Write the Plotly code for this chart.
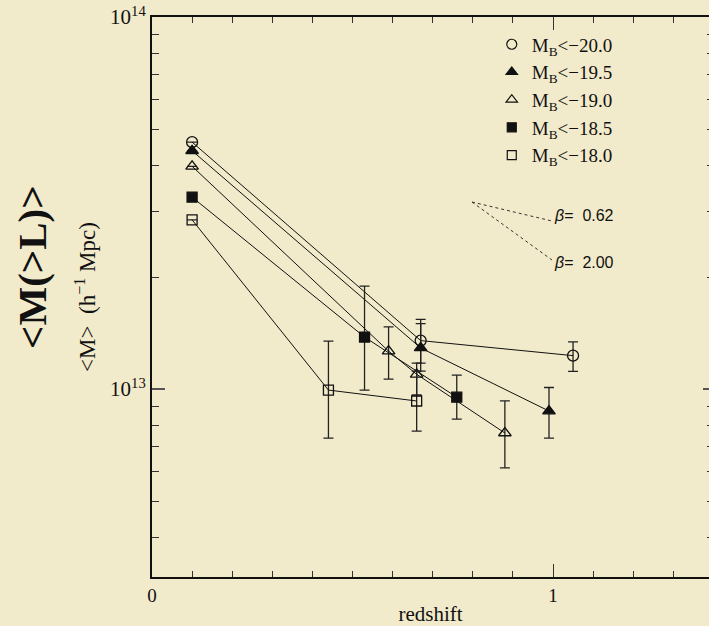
import plotly.graph_objects as go

# Mean group mass vs redshift for several luminosity thresholds
labels = ["M<sub>B</sub><\u221220.0", "M<sub>B</sub><\u221219.5", "M<sub>B</sub><\u221219.0",
          "M<sub>B</sub><\u221218.5", "M<sub>B</sub><\u221218.0"]
symbols = ["circle-open", "triangle-up", "triangle-up-open", "square", "square-open"]
sizes = [11, 11, 11, 10, 10]

z_m20 = [0.10, 0.67, 1.05]
m_m20 = [4.61e13, 1.35e13, 1.23e13]
up_m20 = [None, 1.54e13, 1.34e13]
lo_m20 = [None, 1.175e13, 1.116e13]

z_m195 = [0.10, 0.67, 0.99]
m_m195 = [4.37e13, 1.29e13, 8.73e12]
up_m195 = [None, 1.50e13, 1.01e13]
lo_m195 = [None, 1.117e13, 7.38e12]

z_m19 = [0.10, 0.59, 0.66, 0.88]
m_m19 = [3.97e13, 1.265e13, 1.096e13, 7.62e12]
up_m19 = [None, 1.47e13, 1.175e13, 9.3e12]
lo_m19 = [None, 1.064e13, 9.64e12, 6.14e12]

z_m185 = [0.10, 0.53, 0.76]
m_m185 = [3.28e13, 1.38e13, 9.51e12]
up_m185 = [None, 1.89e13, 1.09e13]
lo_m185 = [None, 9.94e12, 8.30e12]

z_m18 = [0.10, 0.44, 0.66]
m_m18 = [2.85e13, 9.94e12, 9.29e12]
up_m18 = [None, 1.345e13, 1.117e13]
lo_m18 = [None, 7.38e12, 7.71e12]

series = [
    (z_m20, m_m20, up_m20, lo_m20),
    (z_m195, m_m195, up_m195, lo_m195),
    (z_m19, m_m19, up_m19, lo_m19),
    (z_m185, m_m185, up_m185, lo_m185),
    (z_m18, m_m18, up_m18, lo_m18),
]

beta_labels = ["<i>\u03b2</i>=  0.62", "<i>\u03b2</i>=  2.00"]

BG = "#f2ebcb"
INK = "#111111"
SERIF = "Liberation Serif"

fig = go.Figure()

for (z, m, up, lo), sym, sz in zip(series, symbols, sizes):
    plus = [(u - v) if u is not None else 0 for u, v in zip(up, m)]
    minus = [(v - l) if l is not None else 0 for l, v in zip(lo, m)]
    fig.add_trace(go.Scatter(
        x=z, y=m, mode="lines+markers", showlegend=False,
        line=dict(color=INK, width=1),
        marker=dict(symbol=sym, size=sz, color=INK, line=dict(color=INK, width=1.3)),
        error_y=dict(type="data", symmetric=False, array=plus, arrayminus=minus,
                     color="#222222", thickness=1.3, width=5),
    ))

# legend entries: symbol only
for lab, sym, sz in zip(labels, symbols, sizes):
    fig.add_trace(go.Scatter(
        x=[None], y=[None], mode="markers", name=lab,
        marker=dict(symbol=sym, size=sz - 1, color=INK, line=dict(color=INK, width=1.2)),
    ))

major_y = [1e13, 1e14]
minor_y = [k * 1e12 for k in range(4, 10)] + [k * 1e13 for k in range(2, 10)]
major_x = [0, 1]
minor_x = [round(0.1 * k, 1) for k in range(1, 14) if k != 10]

fig.update_xaxes(
    range=[0, 557 / 401], showline=True, linecolor=INK, linewidth=2, mirror="ticks",
    ticks="inside", ticklen=13, tickwidth=1.3, tickcolor="#333333",
    tickvals=major_x, ticktext=["0", "1"],
    minor=dict(tickvals=minor_x, ticks="inside", ticklen=6, tickwidth=1.3, tickcolor="#333333"),
    showgrid=False, zeroline=False,
    tickfont=dict(family=SERIF, size=19, color=INK),
    title=dict(text="redshift", font=dict(family=SERIF, size=21, color=INK), standoff=4),
)
fig.update_yaxes(
    type="log", range=[12.495, 14], showline=True, linecolor=INK, linewidth=2,
    ticks="inside", ticklen=13, tickwidth=1.5, tickcolor="#555555",
    tickvals=major_y, ticktext=["10<sup>13</sup>", "10<sup>14</sup>"],
    minor=dict(tickvals=minor_y, ticks="inside", ticklen=7, tickwidth=1.3, tickcolor="#333333"),
    showgrid=False, zeroline=False,
    tickfont=dict(family=SERIF, size=21, color=INK),
    title=dict(text="<M>  (h<sup>\u22121</sup> Mpc)", font=dict(family=SERIF, size=23, color=INK),
               standoff=8),
)

# right-hand ticks without an axis line (axis sits just past the edge)
fig.add_trace(go.Scatter(x=[None], y=[None], yaxis="y2", showlegend=False))
fig.update_layout(yaxis2=dict(
    type="log", range=[12.495, 14], overlaying="y", side="right", anchor="x",
    showline=False, showgrid=False, zeroline=False, showticklabels=False,
    ticks="inside", ticklen=6, tickwidth=1.5, tickcolor="#555555", tickvals=major_y,
    minor=dict(tickvals=minor_y, ticks="inside", ticklen=2, tickwidth=1.3, tickcolor="#333333"),
))

# slope guide lines
x0, y0 = 0.5745, 0.6696
for yend in [0.6357, 0.5661]:
    fig.add_shape(type="line", xref="paper", yref="paper", x0=x0, y0=y0, x1=0.7181, y1=yend,
                  line=dict(color="#333333", width=1, dash="dot"))
for txt, yy in zip(beta_labels, [0.6464, 0.5625]):
    fig.add_annotation(xref="paper", yref="paper", x=0.718, y=yy, xanchor="left", yanchor="middle",
                       text=txt, showarrow=False, font=dict(family="Liberation Sans", size=16, color=INK))

# large panel label
fig.add_annotation(xref="paper", yref="paper", x=-0.2154, y=0.552, text="<b><M(>L)></b>",
                   textangle=-90, showarrow=False, xanchor="center", yanchor="middle",
                   font=dict(family=SERIF, size=41, color=INK))

fig.update_layout(
    width=709, height=626,
    margin=dict(l=152, r=0, t=17, b=49),
    paper_bgcolor=BG, plot_bgcolor=BG,
    legend=dict(x=0.61, y=0.985, xanchor="left", yanchor="top", bgcolor="rgba(0,0,0,0)",
                font=dict(family=SERIF, size=19, color=INK), tracegroupgap=0, itemwidth=30),
)

fig.write_html("out.html")
